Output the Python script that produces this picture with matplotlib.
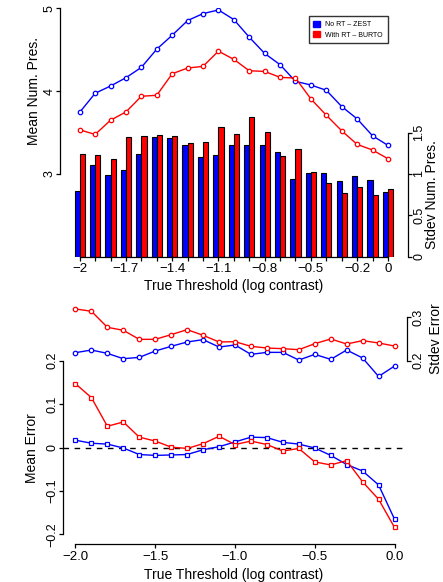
import numpy as np
import matplotlib.pyplot as plt
from matplotlib.patches import Patch

plt.rcParams['font.family'] = ['Liberation Sans', 'DejaVu Sans']
plt.rcParams['axes.unicode_minus'] = True

# true thresholds (log contrast)
thresh = np.round(np.arange(-2.0, 0.01, 0.1), 1)

# top panel: mean / stdev number of presentations
mean_pres_zest = [3.745, 3.974, 4.062, 4.162, 4.287, 4.507, 4.675, 4.852, 4.936, 4.98, 4.864,
                  4.651, 4.455, 4.319, 4.118, 4.074, 4.010, 3.814, 3.665, 3.461, 3.345]
mean_pres_burto = [3.533, 3.477, 3.649, 3.749, 3.938, 3.950, 4.210, 4.279, 4.299, 4.483, 4.383,
                   4.246, 4.238, 4.166, 4.158, 3.906, 3.709, 3.521, 3.357, 3.289, 3.184]
sd_pres_zest = [0.794, 1.113, 0.988, 1.048, 1.246, 1.444, 1.435, 1.347, 1.210, 1.226, 1.355,
                1.351, 1.355, 1.270, 0.940, 1.012, 1.012, 0.915, 0.972, 0.923, 0.778]
sd_pres_burto = [1.242, 1.226, 1.185, 1.452, 1.464, 1.468, 1.464, 1.375, 1.387, 1.569, 1.484,
                 1.685, 1.508, 1.222, 1.298, 1.028, 0.895, 0.766, 0.847, 0.746, 0.819]

# bottom panel: mean / stdev error
mean_err_zest = [0.017, 0.010, 0.008, -0.001, -0.016, -0.018, -0.017, -0.016, -0.005, 0.002, 0.013,
                 0.024, 0.023, 0.012, 0.008, -0.001, -0.018, -0.039, -0.054, -0.086, -0.165]
mean_err_burto = [0.147, 0.115, 0.049, 0.059, 0.024, 0.015, 0.001, -0.002, 0.009, 0.026, 0.007,
                  0.015, 0.007, -0.008, -0.002, -0.033, -0.040, -0.030, -0.079, -0.119, -0.184]
sd_err_zest = [0.2185, 0.2246, 0.2169, 0.2046, 0.2077, 0.2223, 0.2331, 0.2431, 0.2485, 0.2315, 0.2362,
               0.2146, 0.2192, 0.2192, 0.2015, 0.2146, 0.2031, 0.2246, 0.2062, 0.1638, 0.1877]
sd_err_burto = [0.3192, 0.3138, 0.2769, 0.2700, 0.2492, 0.2492, 0.2600, 0.2715, 0.2585, 0.2431, 0.2438,
                0.2331, 0.2292, 0.2277, 0.2254, 0.2392, 0.2500, 0.2385, 0.2462, 0.2408, 0.2338]

top_xlabels = {-2.0: "−2", -1.7: "−1.7", -1.4: "−1.4", -1.1: "−1.1", -0.8: "−0.8",
               -0.5: "−0.5", -0.2: "−0.2", 0.0: "0"}

W, H = 443, 582
fig = plt.figure(figsize=(W / 100, H / 100), dpi=100)


def rect(l, t, r, b):
    return [l / W, 1 - b / H, (r - l) / W, (b - t) / H]


def style(ax, side='left'):
    ax.tick_params(axis='x', direction='out', length=3.0, width=0.9, labelsize=9.5, pad=1.8)
    ax.tick_params(axis='y', direction='out', length=3.0, width=0.9, labelsize=9,
                   pad=0 if side == 'left' else 0.9, labelrotation=90)
    for lab in ax.get_yticklabels():
        lab.set_va('center')
    for s in ax.spines.values():
        s.set_linewidth(0.9)


line_kw = dict(lw=1.0, ms=3.2, mew=0.9, mfc='white')
blue, red = '#0000ff', '#ff0000'

# ---- top panel ----
ax1 = fig.add_axes(rect(60, 8.3, 407.7, 256.8))
ax1b = ax1.twinx()
ax1.set_xlim(-2.128, 0.128)
ax1.set_ylim(2, 5)
ax1b.set_ylim(0, 3)

bw = 0.1 / 3
ax1b.bar(thresh - bw / 2, sd_pres_zest, width=bw, color=blue, edgecolor='black', lw=0.8)
ax1b.bar(thresh + bw / 2, sd_pres_burto, width=bw, color=red, edgecolor='black', lw=0.8)
ax1.plot(thresh, mean_pres_zest, '-o', color=blue, **line_kw)
ax1.plot(thresh, mean_pres_burto, '-o', color=red, **line_kw)
ax1.set_zorder(ax1b.get_zorder() + 1)
ax1.patch.set_visible(False)

for s in ['top', 'right']:
    ax1.spines[s].set_visible(False)
for s in ['top', 'left', 'bottom']:
    ax1b.spines[s].set_visible(False)
ax1.spines['left'].set_bounds(3, 5)
ax1.spines['bottom'].set_bounds(-2, 0)
ax1b.spines['right'].set_bounds(0, 1.5)
ax1.set_yticks([3, 4, 5])
ax1.set_yticklabels(['3', '4', '5'])
ax1.set_xticks(thresh)
ax1.set_xticklabels([top_xlabels.get(float(t), '') for t in thresh])
ax1b.set_yticks([0, 0.5, 1, 1.5])
ax1b.set_yticklabels(['0', '0.5', '1', '1.5'])
style(ax1)
style(ax1b, 'right')

fig.text(34.5 / W, 1 - 91 / H, 'Mean Num. Pres.', rotation=90, ha='center', va='center', fontsize=10)
fig.text(431.5 / W, 1 - 195 / H, 'Stdev Num. Pres.', rotation=90, ha='center', va='center', fontsize=10)
fig.text(234 / W, 1 - 286 / H, 'True Threshold (log contrast)', ha='center', va='center', fontsize=10)

leg = ax1.legend(handles=[Patch(color=blue, label='No RT – ZEST'),
                          Patch(color=red, label='With RT – BURTO')],
                 loc='upper left', bbox_to_anchor=(308.5 / W, 1 - 16 / H),
                 bbox_transform=fig.transFigure, fontsize=5, fancybox=False,
                 handlelength=0.9, handleheight=0.9, handletextpad=0.8,
                 borderpad=0.7, labelspacing=0.45, borderaxespad=0)
leg.get_frame().set_edgecolor('black')
leg.get_frame().set_linewidth(1.0)

# ---- bottom panel ----
ax2 = fig.add_axes(rect(62.7, 286, 407.3, 544))
ax2b = ax2.twinx()
ax2.set_xlim(-2.08, 0.08)
ax2.set_ylim(-0.222, 0.372)
ax2b.set_ylim(-0.222, 0.372)

ax2.axhline(0, color='black', lw=1.0, ls=(0, (4, 4)))
ax2.plot(thresh, mean_err_zest, '-s', color=blue, **line_kw)
ax2.plot(thresh, mean_err_burto, '-s', color=red, **line_kw)
ax2b.plot(thresh, sd_err_zest, '-o', color=blue, **line_kw)
ax2b.plot(thresh, sd_err_burto, '-o', color=red, **line_kw)

for s in ['top', 'right']:
    ax2.spines[s].set_visible(False)
for s in ['top', 'left', 'bottom']:
    ax2b.spines[s].set_visible(False)
ax2.spines['left'].set_bounds(-0.2, 0.2)
ax2.spines['bottom'].set_bounds(-2, 0)
ax2b.spines['right'].set_bounds(0.2, 0.3)
ax2.set_yticks([-0.2, -0.1, 0, 0.1, 0.2])
ax2.set_yticklabels(['−0.2', '−0.1', '0', '0.1', '0.2'])
ax2.set_xticks([-2, -1.5, -1, -0.5, 0])
ax2.set_xticklabels(['−2.0', '−1.5', '−1.0', '−0.5', '0.0'])
ax2b.set_yticks([0.2, 0.3])
ax2b.set_yticklabels(['0.2', '0.3'])
style(ax2)
style(ax2b, 'right')

fig.text(31.5 / W, 1 - 448 / H, 'Mean Error', rotation=90, ha='center', va='center', fontsize=10)
fig.text(435.5 / W, 1 - 339 / H, 'Stdev Error', rotation=90, ha='center', va='center', fontsize=10)
fig.text(234 / W, 1 - 575 / H, 'True Threshold (log contrast)', ha='center', va='center', fontsize=10)

fig.savefig('out.png', dpi=100)
